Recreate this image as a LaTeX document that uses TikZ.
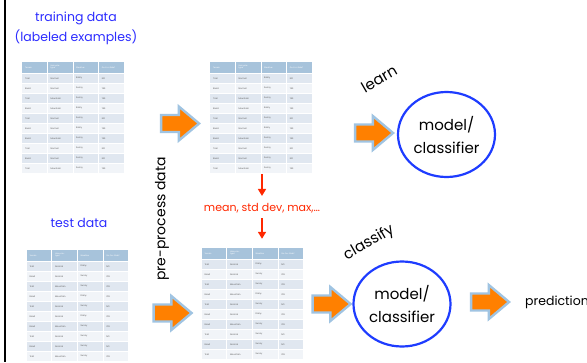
\documentclass[tikz,border=0pt]{standalone}
\usepackage{fontspec}
\setmainfont{Poppins}
\usetikzlibrary{shapes.arrows,shapes.geometric,arrows.meta}

\definecolor{hdrblue}{RGB}{167,195,219}
\definecolor{rowA}{RGB}{224,231,240}
\definecolor{rowB}{RGB}{241,244,248}
\definecolor{cellink}{RGB}{90,90,90}
\definecolor{arrowfill}{RGB}{255,128,0}
\definecolor{arrowedge}{RGB}{160,196,226}
\definecolor{ringblue}{RGB}{30,60,255}
\definecolor{labelblue}{RGB}{45,45,255}
\definecolor{statred}{RGB}{255,40,0}

\tikzset{
  cellhead/.style={anchor=west,inner sep=0pt,text=white,
    font=\fontsize{2}{2.3}\selectfont,align=left},
  cellbody/.style={anchor=west,inner sep=0pt,text=cellink,
    font=\fontsize{2.2}{2.5}\selectfont},
  tableframe/.style={inner sep=0pt,minimum width=101.4pt,minimum height=111pt},
  blockarrow/.style={single arrow,fill=arrowfill,draw=arrowedge,line width=2.4pt,
    minimum height=38pt,inner xsep=0pt,inner ysep=7.3pt,
    single arrow head extend=8.5pt,single arrow tip angle=80},
  ring/.style={ellipse,draw=ringblue,line width=2.2pt,minimum width=97pt,
    minimum height=85pt,inner sep=0pt,align=center,
    font=\fontsize{15}{23}\selectfont},
  bluelabel/.style={text=labelblue,align=center,font=\fontsize{12.5}{20}\selectfont},
  blacklabel/.style={inner sep=0pt,font=\fontsize{15}{18}\selectfont},
  redarrow/.style={draw=statred,line width=1.6pt,
    -{Triangle[width=8pt,length=7pt]}},
  datatable/.pic={
    \foreach \c/\h in {0/Terrain,1/{Unicycle-\\type},2/Weather,3/Go-For-Ride?}{
      \fill[hdrblue] (\c*25.6,0) rectangle ++(24.6,11);
      \node[cellhead] (h\c) at (\c*25.6+2.5,5.5) {\h};
    }
    \foreach \r/\a/\b/\e/\d in {
        1/Trail/Normal/Rainy/NO,
        2/Road/Normal/Sunny/YES,
        3/Trail/Mountain/Sunny/YES,
        4/Road/Mountain/Rainy/YES,
        5/Trail/Normal/Sunny/NO,
        6/Road/Normal/Rainy/YES,
        7/Road/Mountain/Sunny/YES,
        8/Trail/Normal/Sunny/NO,
        9/Road/Normal/Sunny/NO,
        10/Trail/Mountain/Sunny/YES}{
      \ifodd\r \def\rowcol{rowA}\else\def\rowcol{rowB}\fi
      \foreach \c in {0,1,2,3}{
        \fill[\rowcol] (\c*25.6,12+\r*10-10) rectangle ++(24.6,9);
      }
      \node[cellbody] (ra\r) at (2.5,16.5+\r*10-10) {\a};
      \node[cellbody] (rb\r) at (28.1,16.5+\r*10-10) {\b};
      \node[cellbody] (rc\r) at (53.7,16.5+\r*10-10) {\e};
      \node[cellbody] (rd\r) at (79.3,16.5+\r*10-10) {\d};
    }
  }
}

\begin{document}
\begin{tikzpicture}[x=1pt,y=-1pt]
  \useasboundingbox (0,0) rectangle (587,362);
  \fill[white] (0,0) rectangle (587,362);

  % left rule
  \draw[line width=2pt] (5,0) -- (5,362);

  % data tables
  \node[tableframe] (trainTab) at (73.2,117.5) {};
  \pic (tr) at (trainTab.north west) {datatable};
  \node[tableframe] (procTrainTab) at (261.2,117.5) {};
  \pic (ptr) at (procTrainTab.north west) {datatable};
  \node[tableframe] (testTab) at (77.7,305.5) {};
  \pic (te) at (testTab.north west) {datatable};
  \node[tableframe] (procTestTab) at (252.7,303.5) {};
  \pic (pte) at (procTestTab.north west) {datatable};

  % labels
  \node[bluelabel] (trainLabel) at (76,28) {training data\\(labeled examples)};
  \node[bluelabel] (testLabel) at (79,223) {test data};
  \node[blacklabel,rotate=90,font=\fontsize{14}{16}\selectfont] (prep) at (162,219) {pre-process data};
  \node[inner sep=0pt,text=statred,font=\fontsize{11}{13}\selectfont] (stats) at (262,208) {mean, std dev, max,…};

  % block arrows
  \node[blockarrow] (arrTrain) at (175,123.5) {};
  \node[blockarrow] (arrLearn) at (369,133) {};
  \node[blockarrow] (arrTest) at (167.5,313) {};
  \node[blockarrow] (arrClassify) at (326.5,304) {};
  \node[blockarrow] (arrPredict) at (485,302) {};

  % models
  \node[ring] (modelTop) at (446.5,134.5) {model/\\classifier};
  \node[ring] (modelBottom) at (402,304) {model/\\classifier};
  \node[blacklabel,rotate=30] (learn) at (379,79) {learn};
  \node[blacklabel,rotate=30] (classify) at (369,243) {classify};
  \node[anchor=west,inner sep=0pt,font=\fontsize{12.5}{15}\selectfont] (pred) at (525,302) {predictions};

  % statistics flow
  \draw[redarrow,shorten <=1pt,shorten >=7pt] (procTrainTab.south -| stats.north) -- (stats.north);
  \draw[redarrow,shorten <=5pt,shorten >=9pt] (stats.south) -- (stats.south |- procTestTab.north);
\end{tikzpicture}
\end{document}
